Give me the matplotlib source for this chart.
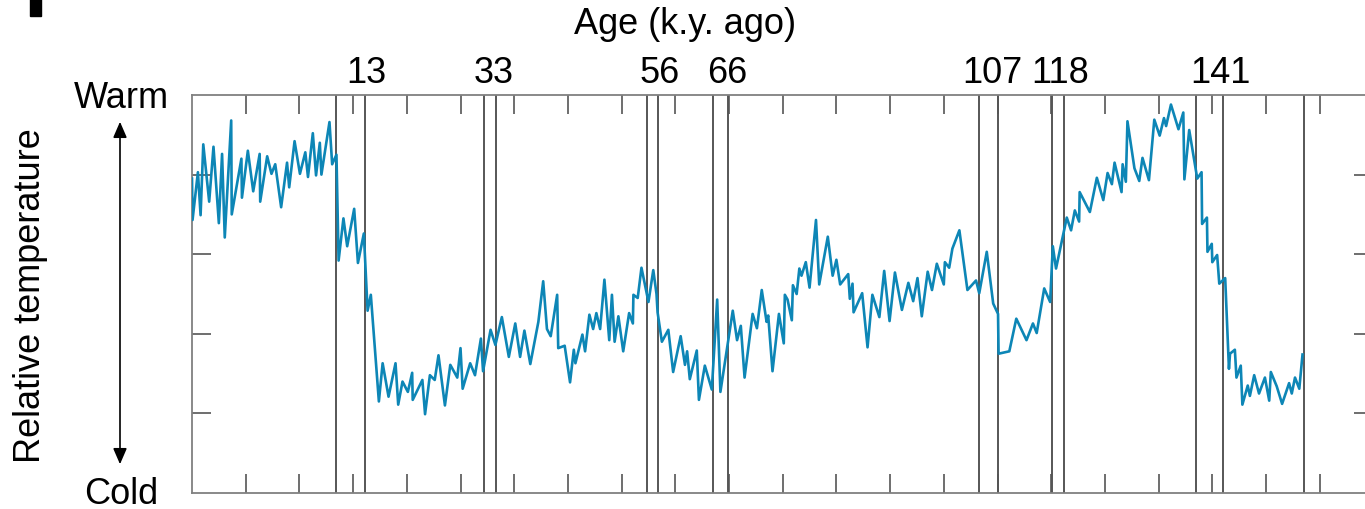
import matplotlib.pyplot as plt
from matplotlib.patches import Rectangle, FancyArrowPatch

plt.rcParams['font.family'] = ['Liberation Sans', 'DejaVu Sans']

# core position (tick units) and relative temperature (0 = cold, 5 = warm)
depth = [0.00, 0.01, 0.11, 0.16, 0.21, 0.32, 0.40, 0.50, 0.56, 0.61, 0.73, 0.74, 0.92, 0.93,
         1.04, 1.14, 1.26, 1.27, 1.40, 1.48, 1.55, 1.66, 1.77, 1.81, 1.91, 2.01, 2.11, 2.16,
         2.25, 2.31, 2.38, 2.41, 2.56, 2.61, 2.69, 2.73, 2.82, 2.89, 3.02, 3.09, 3.20, 3.27,
         3.33, 3.48, 3.55, 3.66, 3.79, 3.84, 3.92, 4.02, 4.10, 4.11, 4.29, 4.34, 4.43, 4.52,
         4.59, 4.71, 4.81, 4.94, 5.00, 5.04, 5.18, 5.27, 5.38, 5.42, 5.56, 5.65, 5.77, 5.90,
         6.02, 6.11, 6.19, 6.30, 6.45, 6.54, 6.61, 6.68, 6.80, 6.82, 6.94, 7.04, 7.11, 7.14,
         7.27, 7.32, 7.40, 7.47, 7.53, 7.60, 7.68, 7.77, 7.82, 7.87, 7.94, 8.03, 8.14, 8.21,
         8.22, 8.30, 8.37, 8.50, 8.59, 8.65, 8.67, 8.75, 8.87, 8.96, 9.10, 9.18, 9.22, 9.27,
         9.40, 9.44, 9.55, 9.68, 9.78, 9.84, 10.07, 10.15, 10.22, 10.29, 10.44, 10.52, 10.61,
         10.70, 10.73, 10.81, 10.93, 11.02, 11.04, 11.09, 11.17, 11.19, 11.26, 11.31, 11.35,
         11.43, 11.50, 11.62, 11.68, 11.84, 11.93, 12.00, 12.07, 12.22, 12.25, 12.30, 12.32,
         12.48, 12.58, 12.67, 12.80, 12.89, 12.99, 13.09, 13.22, 13.34, 13.43, 13.51, 13.59,
         13.70, 13.78, 13.87, 14.00, 14.02, 14.10, 14.16, 14.29, 14.44, 14.60, 14.66, 14.80,
         14.92, 15.01, 15.02, 15.22, 15.35, 15.54, 15.66, 15.73, 15.87, 15.98, 16.03, 16.09,
         16.29, 16.37, 16.44, 16.52, 16.53, 16.72, 16.85, 16.97, 17.05, 17.13, 17.18, 17.31,
         17.33, 17.39, 17.42, 17.55, 17.64, 17.70, 17.82, 17.92, 18.02, 18.10, 18.14, 18.23,
         18.37, 18.46, 18.48, 18.57, 18.72, 18.80, 18.81, 18.90, 18.91, 18.99, 19.00, 19.09,
         19.13, 19.24, 19.31, 19.33, 19.42, 19.45, 19.53, 19.56, 19.66, 19.70, 19.78, 19.87,
         19.98, 20.06, 20.09, 20.20, 20.30, 20.43, 20.48, 20.54, 20.62, 20.68]
temp = [3.95, 3.43, 4.03, 3.49, 4.38, 3.66, 4.35, 3.39, 4.26, 3.21, 4.68, 3.50, 4.20, 3.71,
        4.30, 3.79, 4.26, 3.66, 4.23, 4.01, 4.13, 3.59, 4.15, 3.84, 4.42, 4.01, 4.28, 3.97,
        4.52, 3.99, 4.40, 4.00, 4.66, 4.13, 4.25, 2.92, 3.45, 3.10, 3.57, 2.89, 3.26, 2.29,
        2.49, 1.15, 1.63, 1.21, 1.63, 1.11, 1.40, 1.27, 1.51, 1.17, 1.42, 0.99, 1.48, 1.42,
        1.73, 1.10, 1.61, 1.45, 1.82, 1.31, 1.63, 1.48, 1.94, 1.53, 2.05, 1.86, 2.21, 1.71,
        2.13, 1.71, 2.04, 1.62, 2.15, 2.66, 2.06, 1.97, 2.49, 1.82, 1.85, 1.39, 1.80, 1.63,
        1.99, 1.78, 2.24, 2.06, 2.26, 2.06, 2.68, 1.92, 2.49, 1.90, 2.22, 1.78, 2.26, 2.13,
        2.49, 2.45, 2.83, 2.40, 2.80, 2.50, 2.27, 1.90, 2.05, 1.52, 1.97, 1.61, 1.78, 1.43,
        1.79, 1.17, 1.60, 1.30, 2.43, 1.27, 2.29, 1.92, 2.10, 1.45, 2.25, 2.07, 2.55,
        2.15, 2.23, 1.53, 2.25, 1.88, 2.49, 2.43, 2.17, 2.61, 2.50, 2.82, 2.73,
        2.90, 2.58, 3.43, 2.62, 3.22, 2.73, 2.93, 2.62, 2.75, 2.44, 2.63, 2.27,
        2.51, 1.83, 2.49, 2.21, 2.79, 2.16, 2.77, 2.30, 2.64, 2.41, 2.70, 2.22,
        2.78, 2.55, 2.88, 2.62, 2.90, 2.83, 3.07, 3.30, 2.55, 2.67, 2.51, 3.03,
        2.38, 2.25, 1.75, 1.78, 2.19, 1.92, 2.13, 2.01, 2.57, 2.40, 3.10, 2.82,
        3.46, 3.30, 3.55, 3.41, 3.78, 3.53, 3.96, 3.68, 4.02, 3.88, 4.15, 3.78,
        4.13, 3.91, 4.67, 4.08, 3.92, 4.21, 3.93, 4.69, 4.49, 4.71, 4.61, 4.88,
        4.57, 4.78, 3.94, 4.56, 3.95, 4.03, 3.38, 3.46, 3.03, 3.13, 2.90, 2.99,
        2.63, 2.70, 1.56, 1.75, 1.80, 1.45, 1.60, 1.11, 1.35, 1.22, 1.48, 1.25,
        1.45, 1.16, 1.52, 1.34, 1.12, 1.38, 1.25, 1.45, 1.31, 1.74]

# boundaries of dated intervals
event_lines = [2.69, 3.22, 5.43, 5.67, 8.47, 8.67, 9.71, 9.98,
               14.66, 15.00, 16.01, 16.23, 18.70, 19.20, 20.71]
age_labels = ['13', '33', '56', '66', '107', '118', '141']
age_label_pos = [3.25, 5.62, 8.70, 9.96, 14.90, 16.16, 19.16]

W, H = 1365, 510
fig = plt.figure(figsize=(W / 100, H / 100), dpi=100)
ax = fig.add_axes([192 / W, 16 / H, (22 * 53.7) / W, 398 / H])

for xv in event_lines:
    ax.axvline(xv, color='#3a3a3a', lw=1.2, zorder=1)

ax.plot(depth, temp, color='#0d86b6', lw=1.9, zorder=3)

ax.set_xlim(0, 22)
ax.set_ylim(0, 5)
ax.set_xticks(range(1, 22))
ax.set_yticks([1, 2, 3, 4])
ax.tick_params(direction='in', length=14, width=1.2, color='#555555',
               top=True, right=True, labelbottom=False, labelleft=False)
for sp in ax.spines.values():
    sp.set_color('#808080')
    sp.set_linewidth(1.3)

fs = 26
trans = ax.get_xaxis_transform()
for lab, xp in zip(age_labels, age_label_pos):
    ax.text(xp, 1.033, lab, transform=trans, ha='center', va='baseline',
            fontsize=fs, clip_on=False)

fig.text(685 / W, (H - 34) / H, 'Age (k.y. ago)', ha='center', va='baseline', fontsize=fs)
fig.text(121 / W, (H - 108) / H, 'Warm', ha='center', va='baseline', fontsize=fs)
fig.text(121 / W, (H - 504) / H, 'Cold', ha='center', va='baseline', fontsize=fs)
fig.text(31 / W, (H - 296) / H, 'Relative temperature', rotation=90,
         ha='center', va='center', fontsize=fs)

fig.add_artist(FancyArrowPatch(
    (120 / W, (H - 120) / H), (120 / W, (H - 468) / H), transform=fig.transFigure,
    arrowstyle='<|-|>,head_length=6,head_width=2.6', color='black', lw=1.2,
    mutation_scale=1.6))

# fragment of the panel letter in the corner
fig.add_artist(Rectangle((30 / W, (H - 17) / H), 10.5 / W, 17 / H,
                         transform=fig.transFigure, color='black'))

fig.savefig('out.png', dpi=100)
